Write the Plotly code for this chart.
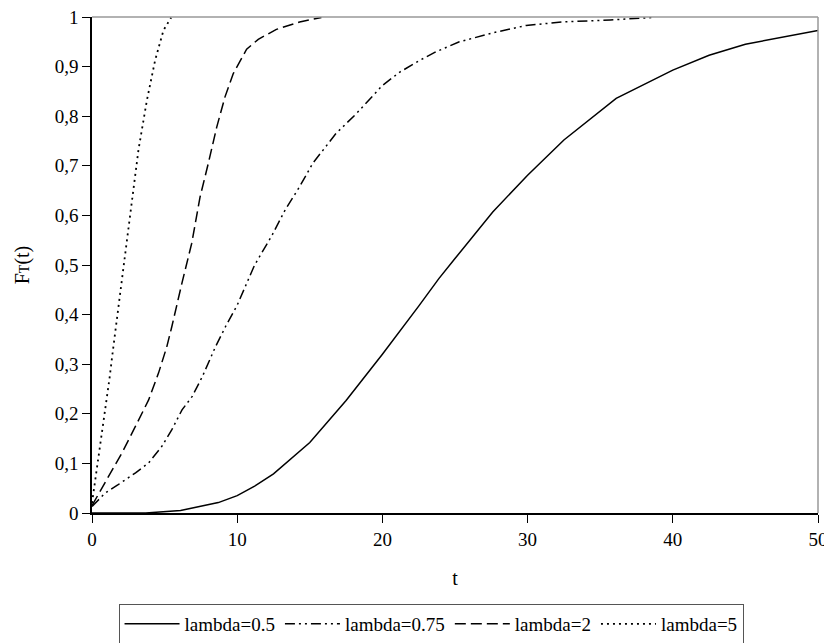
import plotly.graph_objects as go

# lambda = 0.5 (solid)
t_05 = [0, 2, 3.7, 6.1, 8.7, 10, 11.2, 12.5, 15, 17.5, 20, 22.5, 23.9, 25, 27.6, 30, 32.5, 36.1, 40, 42.5, 45, 50]
F_05 = [0, 0, 0, 0.005, 0.021, 0.035, 0.054, 0.079, 0.142, 0.227, 0.32, 0.417, 0.473, 0.513, 0.607, 0.681, 0.752, 0.836, 0.893, 0.923, 0.945, 0.973]

# lambda = 0.75 (dash-dot-dot)
t_075 = [0, 0.9, 1.8, 3.0, 3.9, 4.8, 5.5, 6.2, 6.9, 7.6, 8.5, 9.2, 10.0, 11.2, 12.4, 13.3, 14.3, 15.2, 16.8, 18.2, 20, 21.2, 22.6, 23.7, 25.3, 27.6, 29.9, 32.4, 35.7, 38.6]
F_075 = [0.013, 0.04, 0.057, 0.081, 0.101, 0.134, 0.168, 0.208, 0.235, 0.275, 0.335, 0.376, 0.419, 0.5, 0.56, 0.611, 0.658, 0.705, 0.765, 0.805, 0.862, 0.889, 0.913, 0.93, 0.95, 0.968, 0.983, 0.99, 0.994, 0.999]

# lambda = 2 (dashed)
t_2 = [0, 0.34, 1.14, 2.06, 2.98, 3.9, 4.58, 5.15, 5.5, 5.84, 6.19, 6.87, 7.44, 8.01, 8.59, 9.16, 9.73, 10.65, 11.45, 12.7, 14.3, 15.8]
F_2 = [0.015, 0.033, 0.074, 0.121, 0.174, 0.228, 0.282, 0.335, 0.376, 0.421, 0.463, 0.544, 0.637, 0.705, 0.778, 0.839, 0.886, 0.935, 0.955, 0.975, 0.99, 0.999]

# lambda = 5 (dotted)
t_5 = [0, 0.2, 0.5, 0.85, 1.2, 1.45, 1.65, 1.85, 2.52, 3.2, 3.78, 4.35, 4.92, 5.45]
F_5 = [0.02, 0.06, 0.125, 0.2, 0.27, 0.33, 0.376, 0.419, 0.584, 0.732, 0.832, 0.913, 0.973, 0.999]

series_names = ["lambda=0.5", "lambda=0.75", "lambda=2", "lambda=5"]
y_ticks = [0, 0.1, 0.2, 0.3, 0.4, 0.5, 0.6, 0.7, 0.8, 0.9, 1]
x_ticks = [0, 10, 20, 30, 40, 50]

FONT = "Liberation Serif"

fig = go.Figure()
styles = [
    dict(dash="solid", width=1.5),
    dict(dash="10px,4px,2px,4px,2px,4px", width=1.5),
    dict(dash="11px,5px", width=1.5),
    dict(dash="2px,4px", width=1.8),
]
for (tx, fy), name, st in zip([(t_05, F_05), (t_075, F_075), (t_2, F_2), (t_5, F_5)], series_names, styles):
    fig.add_trace(go.Scatter(x=tx, y=fy, mode="lines", name=name,
                             line=dict(color="black", **st)))

# page body has an 8px margin, so the figure starts at (8, 8) in the window
W, H = 824, 635
fig.update_layout(
    template="none",
    width=W, height=H,
    margin=dict(l=84, r=14, t=9, b=130, autoexpand=False),
    paper_bgcolor="white", plot_bgcolor="white",
    separators=", ",
    font=dict(family=FONT, size=19, color="black"),
    showlegend=True,
    legend=dict(orientation="h", x=0.467, xanchor="center",
                yref="container", y=1 - 596 / H, yanchor="top",
                bordercolor="#555", borderwidth=1, font=dict(family=FONT, size=19), itemwidth=55,
                tracegroupgap=0),
    xaxis=dict(range=[0, 50], tickvals=x_ticks, showgrid=False, zeroline=False,
               showline=True, linecolor="black", linewidth=1.5, automargin=False,
               ticks="outside", ticklen=8, tickcolor="black", ticklabeloverflow="allow",
               tickfont=dict(family=FONT, size=19),
               title=dict(text="t", standoff=22, font=dict(family=FONT, size=20))),
    yaxis=dict(range=[0, 1], tickvals=y_ticks, showgrid=False, zeroline=False,
               showline=True, linecolor="black", linewidth=1.5, automargin=False,
               ticks="outside", ticklen=8, tickcolor="black", ticklabeloverflow="allow",
               tickfont=dict(family=FONT, size=19),
               title=dict(text="F<span style='font-size:14px'>T</span>(t)", standoff=20,
                          font=dict(family=FONT, size=20))),
)
# grey plot-area border on top and right
fig.add_shape(type="line", xref="paper", yref="paper", x0=0, x1=1, y0=1, y1=1,
              line=dict(color="#999999", width=1.5))
fig.add_shape(type="line", xref="paper", yref="paper", x0=1, x1=1, y0=0, y1=1,
              line=dict(color="#999999", width=1.5))

fig.write_html("out.html")
